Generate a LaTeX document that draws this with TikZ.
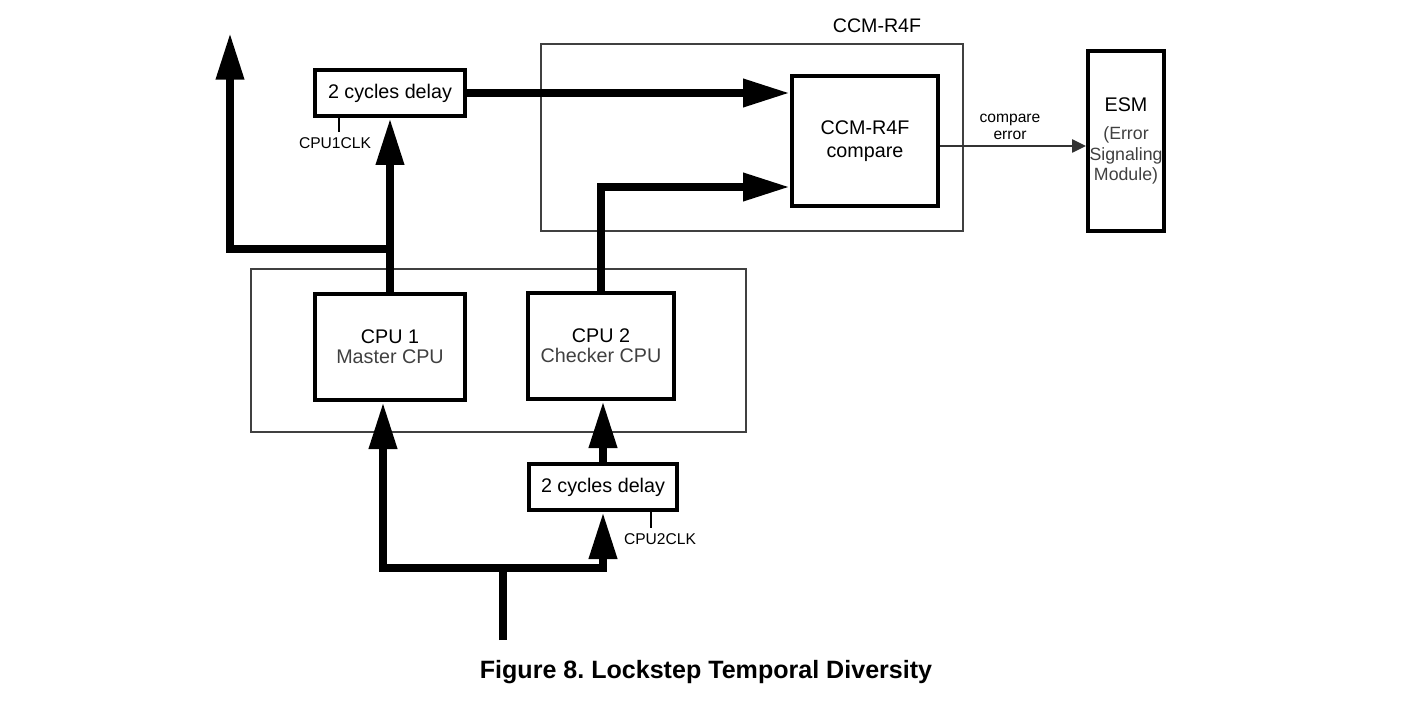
\documentclass[tikz,border=0pt]{standalone}
\usepackage{fontspec}
\setmainfont{Liberation Sans}
\usetikzlibrary{arrows.meta,calc}

\begin{document}
\begin{tikzpicture}[x=0.75pt,y=-0.75pt]
        % Define the styles for the nodes and lines
        \tikzset{
            box/.style={draw,line width=3pt,rectangle,align=center,inner sep=0pt,font=\fontsize{14.8}{15}\selectfont},
            frame/.style={draw=black!75,line width=1.5pt},
            bus/.style={line width=6pt,line join=miter,-{Triangle[length=35pt,width=20pt]}},
            plain/.style={line width=6pt,line join=miter},
            tick/.style={line width=1.4pt},
            thinarrow/.style={draw=black!80,line width=1.1pt,-{Triangle[length=10.5pt,width=10pt]}},
            small/.style={font=\fontsize{11.7}{12.8}\selectfont,align=center,inner sep=0pt},
            label/.style={font=\fontsize{14.7}{16}\selectfont,inner sep=0pt}
        }
        \useasboundingbox (0,0) rectangle (1427,702);

        % Frames
        \draw[frame] (541,44) rectangle (963,231);
        \draw[frame] (251,269) rectangle (746,432);

        % Nodes
        \node[box,minimum width=113pt,minimum height=35pt] (1) at (390,93) {2 cycles delay};
        \node[box,minimum width=112pt,minimum height=80pt] (2) at (390,347) {CPU 1\\\textcolor{black!75}{Master CPU}};
        \node[box,minimum width=110pt,minimum height=80pt] (3) at (601,346) {CPU 2\\\textcolor{black!75}{Checker CPU}};
        \node[box,minimum width=111pt,minimum height=35pt] (4) at (603,487) {2 cycles delay};
        \node[box,minimum width=110pt,minimum height=97pt] (5) at (865,141) {CCM-R4F\\[2.5pt]compare};
        \node[box,minimum width=57pt,minimum height=135pt,font=\fontsize{13.3}{15.4}\selectfont] (6) at (1126,141)
            {{\fontsize{14.8}{15}\selectfont ESM}\\[6pt]\textcolor{black!75}{(Error}\\\textcolor{black!75}{Signaling}\\\textcolor{black!75}{Module)}};
        \node[label] (7) at (877,26) {CCM-R4F};
        \node[small] (8) at (1010,127) {compare\\error};
        \node[small] (9) at (335,143) {CPU1CLK};
        \node[small] (10) at (660,539) {CPU2CLK};
        \node[inner sep=0pt,font=\fontsize{18.8}{22}\selectfont\bfseries] (11) at (706,672) {Figure 8.\ Lockstep Temporal Diversity};

        \coordinate (j1) at (2.north |- 0,249);
        \coordinate (out) at (230,33);
        \coordinate (in) at (503,640);
        \coordinate (j2) at (503,568);

        % Edges
        \draw[bus] (2.north) -- (1.south);
        \draw[bus] (j1) -| (out);
        \draw[bus] (1.east) -- (1.east -| 5.west);
        \draw[bus] (3.north) |- ($(5.west)+(0,46)$);
        \draw[thinarrow] ($(5.east)+(0,5)$) -- ($(6.west)+(0,5)$);
        \draw[plain] (in) -- (j2);
        \draw[bus] (j2) -| ($(2.south)+(-7,0)$);
        \draw[bus] (j2) -| (4.south);
        \draw[bus] (4.north) -- (3.south -| 4.north);

        % Clocks
        \draw[tick] ($(1.south west)+(26,0)$) -- ++(0,14);
        \draw[tick] ($(4.south east)+(-28,0)$) -- ++(0,16);
    \end{tikzpicture}
\end{document}
